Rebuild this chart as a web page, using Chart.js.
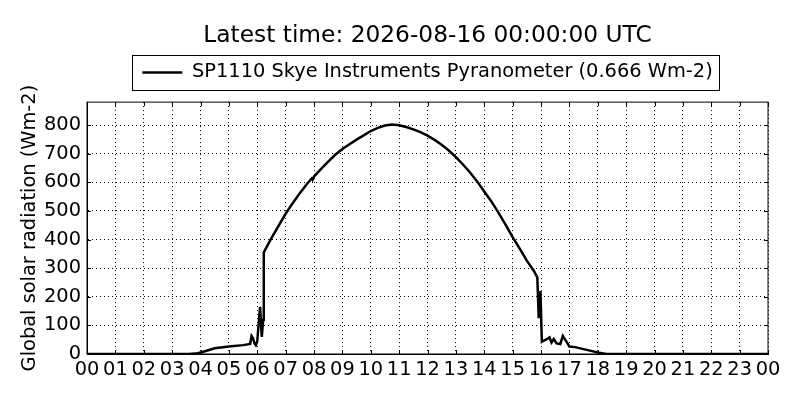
<!DOCTYPE html>
<html>
<head>
<meta charset="utf-8">
<script src="https://cdn.jsdelivr.net/npm/chart.js@4.4.1/dist/chart.umd.min.js"></script>
<style>
  html, body { margin: 0; padding: 0; background: #fff; }
  #wrap { width: 800px; height: 400px; }
</style>
</head>
<body>
<div id="wrap"><canvas id="solarChart" width="800" height="400"></canvas></div>
<script>
// время в часах (UTC) и радиация
const hours = [
  0, 3.6, 3.9, 4.1, 4.3, 4.5, 5.0, 5.5, 5.75, 5.8, 5.85, 5.9, 5.95, 6.0, 6.1, 6.16, 6.21, 6.23,
  6.5, 6.75, 7.0, 7.25, 7.5, 7.75, 7.92, 7.95, 8.0, 8.25, 8.5, 8.75, 9.0, 9.25, 9.5, 9.75,
  10.0, 10.25, 10.5, 10.75, 11.0, 11.25, 11.5, 11.75, 12.0, 12.25, 12.5, 12.75, 13.0,
  13.25, 13.5, 13.75, 14.0, 14.25, 14.5, 14.75, 15.0, 15.25, 15.5, 15.75, 15.87, 15.92, 15.98,
  16.03, 16.17, 16.3, 16.37, 16.45, 16.55, 16.68, 16.77, 16.85, 16.93, 17.0, 17.2, 17.5, 17.8,
  18.05, 18.3, 24
];
const radiation = [
  0, 0, 3, 8, 14, 20, 26, 31, 35, 63, 55, 38, 31, 45, 165, 60, 120, 355,
  405, 448, 490, 527, 562, 594, 613, 609, 620, 647, 672, 696, 716, 733, 749, 764,
  779, 790, 798, 802, 799, 793, 785, 775, 763, 748, 731, 711, 688,
  662, 634, 603, 568, 533, 494, 452, 408, 368, 326, 290, 268, 125, 220,
  43, 50, 58, 40, 52, 37, 35, 63, 50, 38, 26, 24, 17, 10,
  4, 0, 0
];
const xTicks = [0, 1, 2, 3, 4, 5, 6, 7, 8, 9, 10, 11, 12, 13, 14, 15, 16, 17, 18, 19, 20, 21, 22, 23, 24];
const hourLabels = ['00', '01', '02', '03', '04', '05', '06', '07', '08', '09', '10', '11',
  '12', '13', '14', '15', '16', '17', '18', '19', '20', '21', '22', '23', '00'];
const yTicks = [0, 100, 200, 300, 400, 500, 600, 700, 800];

const seriesLabel = 'SP1110 Skye Instruments Pyranometer (0.666 Wm-2)';
const titleText = 'Latest time: 2026-08-16 00:00:00 UTC';

Chart.defaults.font.family = 'DejaVu Sans';
Chart.defaults.color = '#000';

// рамка вокруг графика, внутренние риски и рамка легенды
const framePlugin = {
  id: 'frame',
  afterDraw(chart) {
    const ctx = chart.ctx;
    const a = chart.chartArea;
    const x = chart.scales.x;
    const y = chart.scales.y;
    ctx.save();
    ctx.strokeStyle = '#000';
    ctx.lineWidth = 1;
    ctx.strokeRect(a.left, a.top, a.right - a.left, a.bottom - a.top);
    ctx.beginPath();
    xTicks.forEach(v => {
      const px = Math.round(x.getPixelForValue(v)) + 0.5;
      ctx.moveTo(px, a.bottom); ctx.lineTo(px, a.bottom - 4);
      ctx.moveTo(px, a.top); ctx.lineTo(px, a.top + 4);
    });
    yTicks.forEach(v => {
      const py = Math.round(y.getPixelForValue(v)) + 0.5;
      ctx.moveTo(a.left, py); ctx.lineTo(a.left + 4, py);
      ctx.moveTo(a.right, py); ctx.lineTo(a.right - 4, py);
    });
    ctx.stroke();

    const hb = chart.legend.legendHitBoxes[0];
    if (hb) {
      const cy = hb.top + hb.height / 2;
      ctx.strokeRect(Math.round(hb.left - 10) + 0.5, Math.round(cy - 17.5) + 0.5,
        Math.round(hb.width + 17), 35);
    }
    ctx.restore();
  }
};

const ctx = document.getElementById('solarChart').getContext('2d');
const solarChart = new Chart(ctx, {
  type: 'line',
  data: {
    datasets: [{
      label: seriesLabel,
      data: hours.map((h, i) => ({ x: h, y: radiation[i] })),
      borderColor: '#000',
      backgroundColor: '#000',
      borderWidth: 2.5,
      pointRadius: 0,
      tension: 0,
      fill: false
    }]
  },
  options: {
    responsive: false,
    animation: false,
    devicePixelRatio: 1,
    layout: { padding: { left: 0, right: 32, top: 0, bottom: 0 } },
    plugins: {
      title: {
        display: true,
        text: titleText,
        fullSize: false,
        color: '#000',
        font: { size: 23.3, weight: 'normal', lineHeight: 0.64 },
        padding: { top: 28, bottom: 0 }
      },
      legend: {
        display: true,
        position: 'top',
        fullSize: false,
        labels: {
          usePointStyle: true,
          pointStyle: 'line',
          pointStyleWidth: 40,
          color: '#000',
          font: { size: 19.4 },
          padding: 19.8
        }
      },
      tooltip: { enabled: false }
    },
    scales: {
      x: {
        type: 'linear',
        min: 0,
        max: 24,
        afterBuildTicks: s => { s.ticks = xTicks.map(v => ({ value: v })); },
        afterFit: s => { s.height = 46; },
        ticks: {
          autoSkip: false,
          maxRotation: 0,
          padding: 4,
          color: '#000',
          font: { size: 19.4 },
          callback: v => hourLabels[xTicks.indexOf(v)]
        },
        grid: { color: '#000', lineWidth: 1, drawTicks: false },
        border: { color: '#000', width: 1, dash: [1, 3] }
      },
      // пустая верхняя ось - отступ между легендой и графиком
      xTop: {
        type: 'linear',
        position: 'top',
        min: 0,
        max: 24,
        afterFit: s => { s.height = 10; },
        ticks: { display: false },
        grid: { display: false, drawOnChartArea: false, drawTicks: false },
        border: { display: false }
      },
      y: {
        min: 0,
        max: 880,
        afterBuildTicks: s => { s.ticks = yTicks.map(v => ({ value: v })); },
        afterFit: s => { s.width = 87; },
        ticks: {
          padding: 6,
          color: '#000',
          font: { size: 19.4 }
        },
        title: {
          display: true,
          text: 'Global solar radiation (Wm-2)',
          color: '#000',
          font: { size: 19.4 },
          padding: { top: 18, bottom: 0 }
        },
        grid: { color: '#000', lineWidth: 1, drawTicks: false },
        border: { color: '#000', width: 1, dash: [1, 3] }
      }
    }
  },
  plugins: [framePlugin]
});
</script>
</body>
</html>
